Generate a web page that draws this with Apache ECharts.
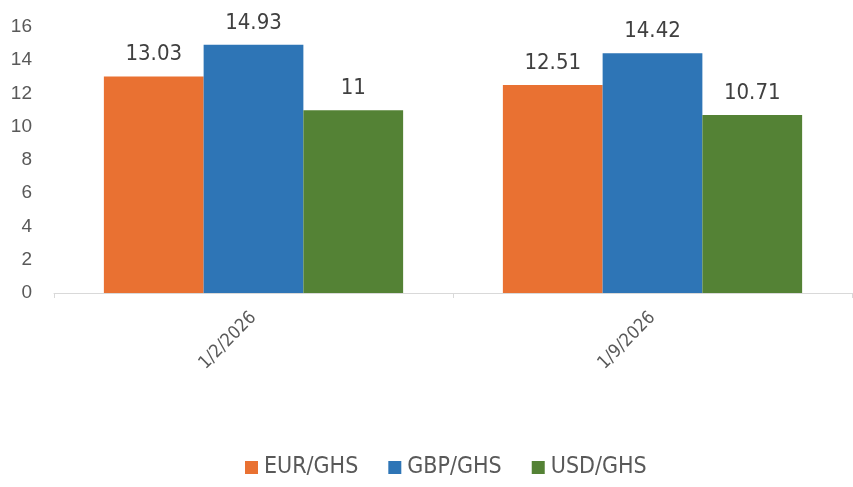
<!DOCTYPE html>
<html><head><meta charset="utf-8">
<script src="https://cdn.jsdelivr.net/npm/echarts@6/dist/echarts.min.js"></script>
<style>html,body{margin:0;padding:0;background:#fff}#c{width:853px;height:487px}</style>
</head><body><div id="c"></div>
<script>
const categories = ['1/2/2026', '1/9/2026'];
const seriesNames = ['EUR/GHS', 'GBP/GHS', 'USD/GHS'];
const eurGhs = [13.03, 12.51];
const gbpGhs = [14.93, 14.42];
const usdGhs = [11, 10.71];
const colors = ['#E97132', '#2E75B6', '#548235'];
const font = 'DejaVu Sans Condensed';
const values = [eurGhs, gbpGhs, usdGhs];
const chart = echarts.init(document.getElementById('c'));
chart.setOption({
  animation: false,
  grid: { left: 54, right: 1, top: 27, bottom: 194, containLabel: false },
  legend: {
    bottom: 3, left: 240, itemWidth: 13, itemHeight: 13, itemGap: 30,
    icon: 'rect',
    textStyle: { fontFamily: font, fontSize: 23, color: '#595959', padding: [0, 0, 0, 1] },
    data: seriesNames
  },
  xAxis: {
    type: 'category', data: categories,
    axisLine: { lineStyle: { color: '#D9D9D9', width: 1 } },
    axisTick: { show: true, length: 5, lineStyle: { color: '#D9D9D9' } },
    axisLabel: { rotate: 45, margin: 22, fontFamily: font, fontSize: 18, color: '#595959' }
  },
  yAxis: {
    type: 'value', min: 0, max: 16, interval: 2,
    splitLine: { show: false }, axisLine: { show: false }, axisTick: { show: false },
    axisLabel: { fontFamily: 'Liberation Sans', fontSize: 19, color: '#595959', margin: 22 }
  },
  series: seriesNames.map((n, i) => ({
    name: n, type: 'bar', data: values[i], barGap: '0%', barCategoryGap: '25%',
    itemStyle: { color: colors[i] },
    label: { show: true, position: 'top', distance: 11, fontFamily: font, fontSize: 22, color: '#404040' }
  }))
});
</script></body></html>
